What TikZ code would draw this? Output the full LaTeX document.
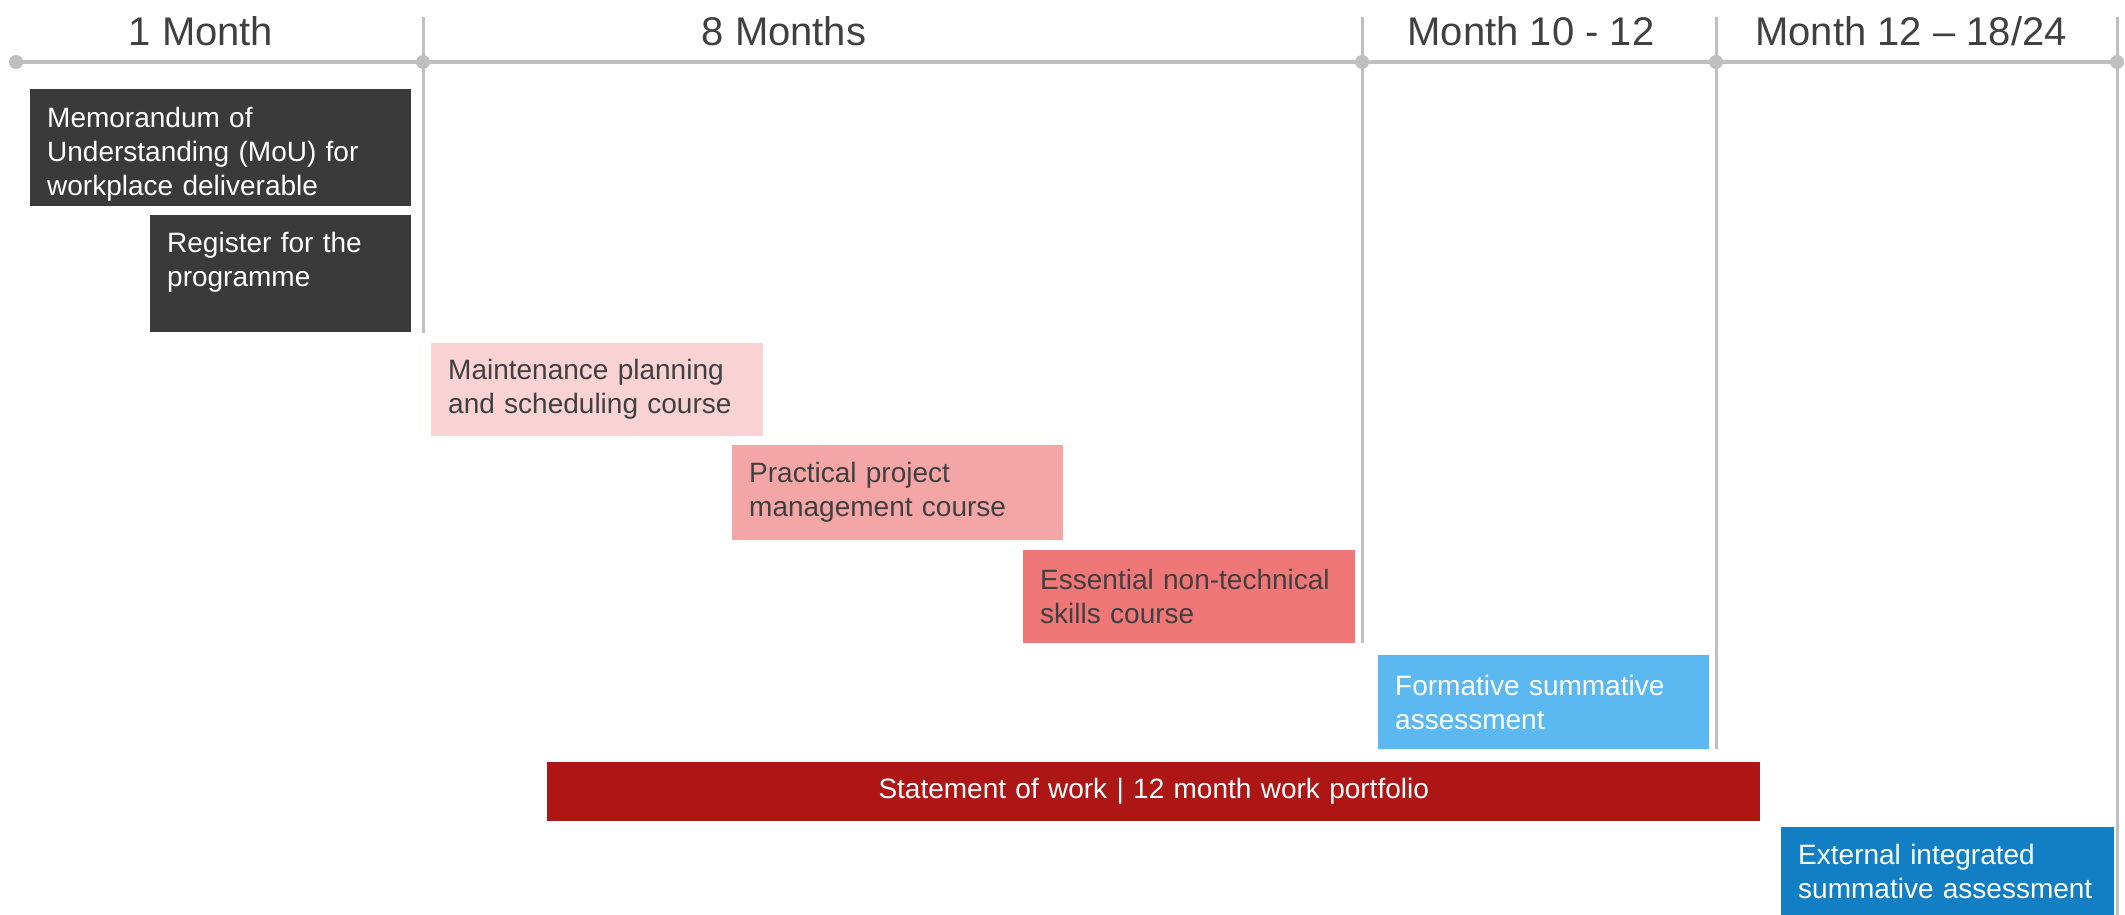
\documentclass[tikz,border=0pt]{standalone}
\usepackage{fontspec}
\setmainfont{Liberation Sans}

\definecolor{axisgray}{HTML}{BFBFBF}
\definecolor{textgray}{HTML}{404040}
\definecolor{darkbox}{HTML}{3A3A3A}
\definecolor{pinkA}{HTML}{F9D2D3}
\definecolor{pinkB}{HTML}{F4A6A6}
\definecolor{pinkC}{HTML}{F07777}
\definecolor{lightblue}{HTML}{5BB8F1}
\definecolor{deepblue}{HTML}{127EC3}
\definecolor{deepred}{HTML}{AE1616}

\newcommand{\headfont}{\fontsize{40}{48}\selectfont}
\newcommand{\taskfont}{\fontsize{28}{34}\selectfont}

\tikzset{
  axis/.style={color=axisgray, line width=4pt},
  divider/.style={color=axisgray, line width=3pt},
  header/.style={font=\headfont, text=textgray, inner sep=0pt},
  task/.style={anchor=north west, inner xsep=17pt, inner ysep=0pt, align=left, font=\taskfont, text=white},
}

\begin{document}
\begin{tikzpicture}[x=1pt, y=-1pt]
  \useasboundingbox (0,0) rectangle (2125,915);
  % timeline
  \coordinate (t0) at (16,62);
  \coordinate (t4) at (2117,62);
  \draw[axis] (t0) -- (t4);
  \foreach \x/\y in {423/333, 1362/643, 1716/749, 2117/915}
  {
  \draw[divider] (\x, 17) -- (\x, \y);
  }
  \foreach \x in {16,423,1362,1716,2117}
  {
  \fill[axisgray] (\x, 62) circle (7pt);
  }
  \node[header] (h1) at (201, 31) {1 Month};
    \node[header] (h2) at (784, 31) {8 Months};
     \node[header] (h3) at (1531, 31) {Month 10 - 12};
      \node[header] (h4) at (1911, 31) {Month 12 -- 18/24};

  % tasks
  \node[task, fill=darkbox, text width=347pt, minimum height=117pt] (mou) at (30, 89)
    {\rule{0pt}{34pt}Memorandum of\\Understanding (MoU) for\\workplace deliverable};
  \node[task, fill=darkbox, text width=227pt, minimum height=117pt] (reg) at (150, 215)
    {\rule{0pt}{36pt}Register for the\\programme\\\strut};
  \node[task, fill=pinkA, text=textgray, text width=298pt, minimum height=93pt] (mpsc) at (431, 343)
    {Maintenance planning\\and scheduling course};
  \node[task, fill=pinkB, text=textgray, text width=297pt, minimum height=95pt] (ppm) at (732, 445)
    {Practical project\\management course};
  \node[task, fill=pinkC, text=textgray, text width=298pt, minimum height=93pt] (ents) at (1023, 550)
    {Essential non-technical\\skills course};
  \node[task, fill=lightblue, text width=297pt, minimum height=94pt] (fsa) at (1378, 655)
    {Formative summative\\assessment};
  \node[task, fill=deepred, align=center, inner xsep=0pt, text width=1213pt, minimum height=59pt] (sow) at (547, 762)
    {Statement of work | 12 month work portfolio};
  \node[task, fill=deepblue, text width=299pt, minimum height=88pt] (eisa) at (1781, 827)
    {External integrated\\summative assessment};

\end{tikzpicture}
\end{document}
